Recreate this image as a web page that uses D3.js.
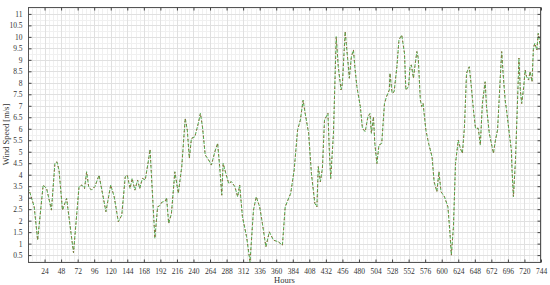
<!DOCTYPE html>
<html><head><meta charset="utf-8">
<script src="https://cdn.jsdelivr.net/npm/d3@7"></script>
<style>body{margin:0;background:#fff;}svg{display:block;font-family:"Liberation Serif","Times New Roman",serif;}</style>
</head><body><svg id="c" width="550" height="285"></svg>
<script>
const hours = [0,3,9,14,22,27,34,39,42,45,50,56,66,74,78,82,85,88,92,97,103,108,113,120,125,131,136,141,144,148,151,155,159,162,166,170,174,177,
184,188,191,194,199,201,204,208,213,218,223,228,231,234,237,242,247,250,253,257,262,266,271,275,278,281,283,287,291,295,300,304,307,311,317,322,327,331,336,340,345,350,356,363,
369,373,377,381,386,391,395,399,402,407,411,416,419,421,424,427,430,435,437,439,443,447,450,454,456,460,464,466,469,472,474,477,482,485,489,493,496,498,501,503,506,509,513,517,520,524,525,528,531,535,538,542,546,548,552,
554,556,559,561,564,566,569,571,573,577,581,586,589,593,596,599,604,609,612,614,617,620,624,627,630,633,636,640,643,646,649,653,656,659,663,665,669,673,675,678,681,685,687,689,692,694,698,701,702,704,707,710,712,714,716,719,721,723,726,728,731,733,735,738,740,743,744];
const speed = [3.45,3.2,2.6,1.15,3.55,3.4,2.46,4.49,4.56,4.2,2.46,2.97,0.6,3.48,3.55,3.4,4.13,3.48,3.33,3.48,3.98,3.19,2.39,3.55,3.04,1.95,2.24,3.91,3.98,3.4,3.84,3.33,3.77,3.4,3.84,3.77,4.49,5.1,
1.23,2.6,2.65,2.8,2.85,3.0,1.88,2.3,4.13,3.19,4.35,6.46,5.95,4.71,5.58,5.65,6.24,6.67,6.1,4.86,4.64,4.42,5.0,5.37,4.35,3.11,4.49,4.05,3.62,3.7,3.48,3.04,3.55,2.17,1.3,0.2,2.46,3.04,2.6,1.87,0.86,1.51,1.15,1.08,
0.93,2.6,2.9,3.19,4.2,5.95,6.38,7.25,6.67,5.8,4.06,2.75,2.6,4.35,3.69,4.28,6.38,6.67,5.07,3.84,5.8,10.01,8.7,7.69,7.98,10.23,8.92,8.2,9.14,9.43,8.7,7.83,6.96,6.02,5.87,6.52,6.67,5.8,6.52,5.36,4.49,5.29,5.36,7.1,7.4,7.69,8.42,7.55,7.61,8.7,9.87,10.08,9.29,7.69,7.84,
8.7,8.78,8.2,8.7,9.36,9.07,7.25,6.96,7.1,5.95,5.36,4.78,3.69,3.26,4.13,3.26,3.04,2.6,1.44,0.5,1.73,4.49,5.51,5.15,4.93,6.09,8.42,8.7,7.83,6.82,6.02,6.02,5.29,7.1,8.05,6.96,5.8,5.22,4.93,5.51,5.95,8.27,9.36,8.42,7.25,6.82,5.8,5.07,4.2,3.04,4.64,7.25,9.07,7.69,7.1,7.83,8.56,8.27,8.12,8.49,8.05,9.51,9.72,9.43,10.16,9.58,8.85];
const xTicks = [24,48,72,96,120,144,168,192,216,240,264,288,312,336,360,384,408,432,456,480,504,528,552,576,600,624,648,672,696,720,744];
const yTicks = [0.5,1,1.5,2,2.5,3,3.5,4,4.5,5,5.5,6,6.5,7,7.5,8,8.5,9,9.5,10,10.5,11];
const xLabel = "Hours", yLabel = "Wind Speed [m/s]";

const svg = d3.select("#c");
const L=28,R=541,T=7,B=262;
const x = d3.scaleLinear().domain([0,744]).range([L,R]);
const y = d3.scaleLinear().domain([0.2,11.3]).range([B,T]);

const xMinor = d3.range(0,745,6), yMinor = d3.range(0.25,11.3,0.25);
const g = svg.append("g");
g.selectAll(".mx").data(xMinor).join("line").attr("x1",d=>Math.round(x(d))+0.5).attr("x2",d=>Math.round(x(d))+0.5).attr("y1",T).attr("y2",B).attr("stroke","#f0f0f0");
g.selectAll(".my").data(yMinor).join("line").attr("y1",d=>Math.round(y(d))+0.5).attr("y2",d=>Math.round(y(d))+0.5).attr("x1",L).attr("x2",R).attr("stroke","#f0f0f0");
g.selectAll(".gx").data(xTicks).join("line").attr("x1",d=>Math.round(x(d))+0.5).attr("x2",d=>Math.round(x(d))+0.5).attr("y1",T).attr("y2",B).attr("stroke","#e0e0e0");
g.selectAll(".gy").data(yTicks).join("line").attr("y1",d=>Math.round(y(d))+0.5).attr("y2",d=>Math.round(y(d))+0.5).attr("x1",L).attr("x2",R).attr("stroke","#e0e0e0");

svg.append("clipPath").attr("id","cp").append("rect").attr("x",L).attr("y",T).attr("width",R-L).attr("height",B-T);
const pts = hours.map((h,i)=>[h,speed[i]]);
const line = d3.line().x(d=>x(d[0])).y(d=>y(d[1]));
svg.append("path").datum(pts).attr("clip-path","url(#cp)").attr("d",line).attr("fill","none").attr("stroke","#4caf50").attr("stroke-width",1).attr("stroke-dasharray","3.5,1.5");
svg.append("path").datum(pts).attr("clip-path","url(#cp)").attr("d",line).attr("fill","none").attr("stroke","#a0603a").attr("stroke-width",0.9).attr("stroke-dasharray","1.5,3.5");

const ax = svg.append("g").attr("fill","none");
ax.append("rect").attr("x",L+0.5).attr("y",T+0.5).attr("width",R-L-1).attr("height",B-T).attr("stroke","#555");
const axB = d3.axisBottom(x).tickValues(xTicks).tickSize(-3).tickPadding(6);
const axT = d3.axisTop(x).tickValues(xTicks).tickSize(-3).tickFormat("");
const axL = d3.axisLeft(y).tickValues(yTicks).tickSize(-3).tickPadding(6).tickFormat(d=>d);
const axR = d3.axisRight(y).tickValues(yTicks).tickSize(-3).tickFormat("");
function style(sel){sel.select(".domain").remove();sel.selectAll(".tick line").attr("stroke","#444");sel.selectAll("text").attr("font-family","Liberation Serif").attr("font-size",7.5).attr("fill","#333");}
svg.append("g").attr("transform",`translate(0,${B+0.5})`).call(axB).call(style);
svg.append("g").attr("transform",`translate(0,${T+0.5})`).call(axT).call(style);
svg.append("g").attr("transform",`translate(${L+0.5},0)`).call(axL).call(style);
svg.append("g").attr("transform",`translate(${R-0.5},0)`).call(axR).call(style);

svg.append("text").attr("x",(L+R)/2).attr("y",283).attr("text-anchor","middle").attr("font-size",8.5).attr("fill","#333").text(xLabel);
svg.append("text").attr("transform",`translate(9,${(T+B)/2}) rotate(-90)`).attr("text-anchor","middle").attr("font-size",8.5).attr("fill","#333").text(yLabel);
</script></body></html>
